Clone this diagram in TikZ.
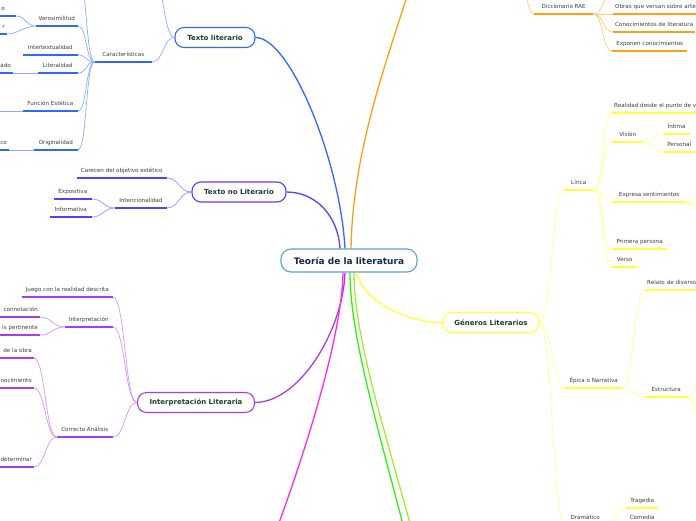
\documentclass[tikz,border=0pt]{standalone}
\usepackage{fontspec}
\setmainfont{DejaVu Sans}
\usepackage{xcolor}
\definecolor{rootblue}{RGB}{90,160,220}
\definecolor{roottext}{RGB}{25,40,75}
\definecolor{boxtext}{RGB}{25,65,50}
\definecolor{labeltext}{RGB}{60,60,60}
\definecolor{tlblue}{RGB}{51,102,255}
\definecolor{tllight}{RGB}{140,170,255}
\definecolor{tnlind}{RGB}{90,60,255}
\definecolor{tnllight}{RGB}{160,140,255}
\definecolor{ilpur}{RGB}{170,60,240}
\definecolor{illight}{RGB}{210,150,255}
\definecolor{genyel}{RGB}{255,255,60}
\definecolor{genlight}{RGB}{255,255,150}
\definecolor{raeor}{RGB}{255,160,20}
\definecolor{raelight}{RGB}{255,205,120}
\definecolor{magline}{RGB}{255,40,240}
\definecolor{greenline}{RGB}{50,240,20}
\definecolor{limeline}{RGB}{160,240,40}
\usepackage{tikz}
\usetikzlibrary{positioning}
\tikzset{
  rootbox/.style={draw=rootblue,line width=1.1pt,rounded corners=10pt,fill=white,%
    font=\fontsize{9}{10}\selectfont\bfseries,text=roottext,%
    minimum width=136pt,minimum height=23pt},
  topic/.style={draw=#1,line width=1.1pt,rounded corners=9pt,fill=white,%
    font=\fontsize{7}{8}\selectfont\bfseries,text=boxtext,minimum height=20pt},
  leaf/.style={font=\fontsize{5.6}{6.5}\selectfont,text=labeltext,%
    inner xsep=2pt,inner ysep=4pt,text height=4.2pt,text depth=1.2pt,%
    append after command={(\tikzlastnode.south west) edge[draw=#1,line width=1.5pt]
      (\tikzlastnode.south east)}},
  branch/.style={draw=#1,line width=1.3pt},
  twig/.style={draw=#1,line width=0.7pt},
}

\begin{document}
\begin{tikzpicture}[x=1pt,y=-1pt]
\useasboundingbox (0,0) rectangle (696,520);
\clip (0,0) rectangle (696,520);

% centre and main topics
\node[rootbox] (teoria) at (349,260.5) {Teoría de la literatura};
\node[topic=tlblue,minimum width=80pt] (tlit) at (215,37.5) {Texto literario};
\node[topic=tnlind,minimum width=94pt] (tnlit) at (239,192) {Texto no Literario};
\node[topic=ilpur,minimum width=117pt] (interp) at (196,402.5) {Interpretación Literaria};
\node[topic=genyel,minimum width=96pt] (generos) at (491,322.5) {Géneros Literarios};

% branches leaving the picture
\coordinate (defin) at (415,-30);
\coordinate (magend) at (265,560);
\coordinate (greenend) at (412,560);
\coordinate (limeend) at (420,560);

\draw[branch=tlblue] (tlit.east) .. controls (290,37.5) and (340,160) .. ([xshift=-4]teoria.north);
\draw[branch=tnlind] (tnlit.east) .. controls (315,192) and (338,215) .. ([xshift=-9]teoria.north);
\draw[branch=raeor] ([xshift=2]teoria.north) .. controls (353,140) and (395,40) .. (defin);
\draw[branch=ilpur] (interp.east) .. controls (300,402) and (343,330) .. ([xshift=-4]teoria.south);
\draw[branch=magline] ([xshift=-6]teoria.south) .. controls (342,340) and (300,470) .. (magend);
\draw[branch=greenline] ([xshift=1]teoria.south) .. controls (350,340) and (382,440) .. (greenend);
\draw[branch=limeline] ([xshift=5]teoria.south) .. controls (354,340) and (388,440) .. (limeend);
\draw[branch=genyel] ([xshift=8]teoria.south) .. controls (362,300) and (405,322.5) .. (generos.west);

% Texto literario
\node[leaf=tlblue,minimum width=57pt,anchor=south east] (carac) at (152,62) {Características};
\node[leaf=tlblue,minimum width=42pt,anchor=south east] (veros) at (78,26) {Verosimilitud};
\node[leaf=tlblue,text width=20pt,align=right,anchor=south east] (veros1) at (16,16) {o\hspace*{9pt}};
\node[leaf=tlblue,text width=20pt,align=right,anchor=south east] (veros2) at (7,34) {r};
\node[leaf=tlblue,minimum width=55pt,anchor=south east] (intert) at (78,55) {Intertextualidad};
\node[leaf=tlblue,minimum width=40pt,anchor=south east] (literal) at (78,73) {Literalidad};
\node[leaf=tlblue,text width=20pt,align=right,anchor=south east] (literal1) at (13,73) {ado};
\node[leaf=tlblue,minimum width=55pt,anchor=south east] (funcion) at (78,111) {Función Estética};
\node[leaf=tlblue,minimum width=44pt,anchor=south east] (orig) at (78,150) {Originalidad};
\node[leaf=tlblue,text width=20pt,align=right,anchor=south east] (orig1) at (9,150) {co};
\coordinate (tlup) at (150,-40);
\coordinate (carup) at (78,-25);
\coordinate (funleft) at (-10,111);

\draw[twig=tllight] (tlit.west) .. controls +(-12,0) and +(12,0) .. (tlup);
\draw[twig=tllight] (tlit.west) .. controls +(-12,0) and +(12,0) .. (carac.south east);
\foreach \n in {carup,veros.south east,intert.south east,literal.south east,funcion.south east,orig.south east}
  \draw[twig=tllight] (carac.south west) .. controls +(-9,0) and +(9,0) .. (\n);
\draw[twig=tllight] (veros.south west) .. controls +(-10,0) and +(10,0) .. (veros1.south east);
\draw[twig=tllight] (veros.south west) .. controls +(-10,0) and +(10,0) .. (veros2.south east);
\draw[twig=tllight] (literal.south west) -- (literal1.south east);
\draw[twig=tllight] (funcion.south west) -- (funleft);
\draw[twig=tllight] (orig.south west) -- (orig1.south east);

% Texto no Literario
\node[leaf=tnlind,minimum width=90pt,anchor=south east] (carecen) at (167,178) {Carecen del objetivo estético};
\node[leaf=tnlind,minimum width=52pt,anchor=south east] (intenc) at (167,208) {Intencionalidad};
\node[leaf=tnlind,minimum width=38pt,anchor=south east] (expos) at (92,199) {Expositiva};
\node[leaf=tnlind,minimum width=42pt,anchor=south east] (inform) at (92,217) {Informativa};

\draw[twig=tnllight] (tnlit.west) .. controls +(-12,0) and +(12,0) .. (carecen.south east);
\draw[twig=tnllight] (tnlit.west) .. controls +(-12,0) and +(12,0) .. (intenc.south east);
\draw[twig=tnllight] (intenc.south west) .. controls +(-11,0) and +(11,0) .. (expos.south east);
\draw[twig=tnllight] (intenc.south west) .. controls +(-11,0) and +(11,0) .. (inform.south east);

% Interpretacion Literaria
\node[leaf=ilpur,minimum width=91pt,anchor=south east] (juego) at (113,297) {Juego con la realidad descrita};
\node[leaf=ilpur,minimum width=48pt,anchor=south east] (interpre) at (113,327) {Interpretación};
\node[leaf=ilpur,text width=40pt,align=right,anchor=south east] (conno) at (40,317) {connotación};
\node[leaf=ilpur,text width=40pt,align=right,anchor=south east] (perti) at (40,335) {is pertinente};
\node[leaf=ilpur,minimum width=56pt,anchor=south east] (correcto) at (113,437) {Correcto Análisis};
\node[leaf=ilpur,text width=34pt,align=right,anchor=south east] (obra) at (34,358) {de la obra};
\node[leaf=ilpur,text width=34pt,align=right,anchor=south east] (nocim) at (34,388) {nocimiento};
\node[leaf=ilpur,text width=34pt,align=right,anchor=south east] (determ) at (34,467) {determinar};

\foreach \n in {juego,interpre,correcto}
  \draw[twig=illight] (interp.west) .. controls +(-12,0) and +(12,0) .. (\n.south east);
\foreach \n in {conno,perti}
  \draw[twig=illight] (interpre.south west) .. controls +(-12,0) and +(12,0) .. (\n.south east);
\foreach \n in {obra,nocim,determ}
  \draw[twig=illight] (correcto.south west) .. controls +(-11,0) and +(11,0) .. (\n.south east);

% Diccionario RAE
\node[leaf=raeor,minimum width=59pt,anchor=south west] (dicc) at (534,14) {Diccionario RAE};
\node[leaf=raeor,text width=90pt,align=left,anchor=south west] (obras) at (613,14) {Obras que versan sobre arte};
\node[leaf=raeor,minimum width=80pt,anchor=south west] (conoc) at (613,32) {Conocimientos de literatura};
\node[leaf=raeor,minimum width=75pt,anchor=south west] (exponen) at (612,51) {Exponen conocimientos};
\coordinate (raeup) at (518,-25);
\coordinate (obrasup) at (613,-6);

\draw[twig=raelight] (dicc.south west) .. controls +(-8,0) and +(8,0) .. (raeup);
\foreach \n in {obrasup,obras.south west,conoc.south west,exponen.south west}
  \draw[twig=raelight] (dicc.south east) .. controls +(10,0) and +(-10,0) .. (\n);

% Generos Literarios
\node[leaf=genyel,minimum width=29pt,anchor=south west] (lirica) at (564,190) {Lírica};
\node[leaf=genyel,minimum width=57pt,anchor=south west] (epica) at (565,388) {Épica o Narrativa};
\node[leaf=genyel,minimum width=40pt,anchor=south west] (drama) at (565,525) {Dramático};
\node[leaf=genyel,text width=110pt,align=left,anchor=south west] (realidad) at (612,113) {Realidad desde el punto de vista};
\node[leaf=genyel,minimum width=31pt,anchor=south west] (vision) at (612,142) {Visión};
\node[leaf=genyel,minimum width=27pt,anchor=south west] (intima) at (663,134) {Íntima};
\node[leaf=genyel,minimum width=32pt,anchor=south west] (personal) at (663,152) {Personal};
\node[leaf=genyel,minimum width=74pt,anchor=south west] (expresa) at (612,202) {Expresa sentimientos};
\node[leaf=genyel,minimum width=55pt,anchor=south west] (primera) at (612,249) {Primera persona};
\node[leaf=genyel,minimum width=25pt,anchor=south west] (verso) at (612,267) {Verso};
\node[leaf=genyel,text width=80pt,align=left,anchor=south west] (relato) at (645,290) {Relato de diversos};
\node[leaf=genyel,minimum width=42pt,anchor=south west] (estruct) at (645,397) {Estructura};
\node[leaf=genyel,minimum width=32pt,anchor=south west] (tragedia) at (626,508) {Tragedia};
\node[leaf=genyel,minimum width=32pt,anchor=south west] (comedia) at (626,525) {Comedia};
\coordinate (expresa1) at (715,172);
\coordinate (expresa2) at (715,214);
\coordinate (expresa3) at (715,236);
\coordinate (estruct1) at (715,345);
\coordinate (estruct2) at (715,430);
\coordinate (estruct3) at (715,462);

\foreach \n in {lirica,epica,drama}
  \draw[twig=genlight] (generos.east) .. controls +(12,0) and +(-12,0) .. (\n.south west);
\foreach \n in {realidad,vision,expresa,primera,verso}
  \draw[twig=genlight] (lirica.south east) .. controls +(10,0) and +(-10,0) .. (\n.south west);
\foreach \n in {intima,personal}
  \draw[twig=genlight] (vision.south east) .. controls +(10,0) and +(-10,0) .. (\n.south west);
\foreach \n in {expresa1,expresa2,expresa3}
  \draw[twig=genlight] (expresa.south east) .. controls +(10,0) and +(-10,0) .. (\n);
\foreach \n in {relato,estruct}
  \draw[twig=genlight] (epica.south east) .. controls +(11,0) and +(-11,0) .. (\n.south west);
\foreach \n in {estruct1,estruct2,estruct3}
  \draw[twig=genlight] (estruct.south east) .. controls +(10,0) and +(-10,0) .. (\n);
\foreach \n in {tragedia,comedia}
  \draw[twig=genlight] (drama.south east) .. controls +(10,0) and +(-10,0) .. (\n.south west);
\end{tikzpicture}
\end{document}
